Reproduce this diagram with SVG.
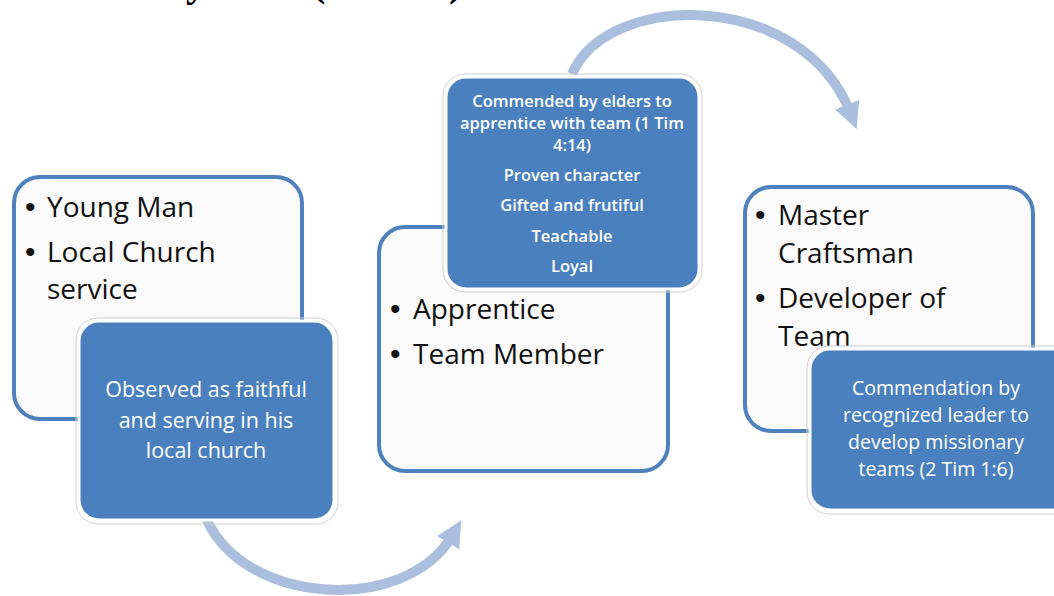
<svg xmlns="http://www.w3.org/2000/svg" width="1054" height="596" viewBox="0 0 1054 596">
<defs>
<style>
.outer{fill:#FAFAFA;stroke:#4F81BD;stroke-width:4}
.halo{fill:none;stroke:#D0D0D0;stroke-width:1}
.blue{fill:#4A80BD;stroke:#FFFFFF;stroke-width:3}
.big{font-family:"Open Sans","Liberation Sans",sans-serif;font-size:28px;fill:#111}
.bul{font-family:"Liberation Sans",sans-serif;font-size:30px;fill:#111}
.wt{font-family:"Open Sans","Liberation Sans",sans-serif;fill:#FFFFFF;text-anchor:middle}
.arc{fill:none;stroke:#A9BFDD;stroke-width:10}
.title{font-family:"Liberation Serif",serif;font-weight:bold;font-size:40px;fill:#000}
</style>
<marker id="ah" viewBox="0 0 10 10" refX="3" refY="5" markerWidth="2.6" markerHeight="2.6" orient="auto" markerUnits="strokeWidth">
<path d="M0,0 L10,5 L0,10 Z" fill="#A9BFDD"/>
</marker>
</defs>
<g id="title">
<text class="title" x="186" y="-4">y</text>
<text class="title" x="312" y="-4">(</text>
<text class="title" x="449" y="-4">)</text>
</g>
<g id="connectors">
<path class="arc" d="M207 520 C245 605 405 615 452 536" marker-end="url(#ah)"/>
<path class="arc" d="M572 74 C608 -10 802 -10 850 112" marker-end="url(#ah)"/>
</g>
<g id="node1">
<rect class="outer" x="14" y="177" width="288" height="242" rx="26"/>
<text class="bul" x="25" y="217">•</text>
<text class="big" x="47" y="217">Young Man</text>
<text class="bul" x="25" y="262">•</text>
<text class="big" x="47" y="262">Local Church</text>
<text class="big" x="47" y="299">service</text>
</g>
<g id="note1">
<rect class="halo" x="76" y="318" width="262" height="206" rx="22"/>
<rect class="blue" x="79" y="321" width="255" height="199" rx="20"/>
<text class="wt" font-size="21.5" x="206" y="397">Observed as faithful</text>
<text class="wt" font-size="21.5" x="206" y="428">and serving in his</text>
<text class="wt" font-size="21.5" x="206" y="458">local church</text>
</g>
<g id="node2">
<rect class="outer" x="379" y="227" width="289" height="244" rx="26"/>
<text class="bul" x="390" y="319">•</text>
<text class="big" x="413" y="319">Apprentice</text>
<text class="bul" x="390" y="364">•</text>
<text class="big" x="413" y="364">Team Member</text>
</g>
<g id="note2">
<rect class="halo" x="443" y="74" width="259" height="218" rx="22"/>
<rect class="blue" x="446" y="77" width="253" height="212" rx="20"/>
<g font-weight="600">
<text class="wt" font-size="16.5" x="572" y="107">Commended by elders to</text>
<text class="wt" font-size="16.5" x="572" y="129">apprentice with team (1 Tim</text>
<text class="wt" font-size="16.5" x="572" y="151">4:14)</text>
<text class="wt" font-size="16.5" x="572" y="181">Proven character</text>
<text class="wt" font-size="16.5" x="572" y="211">Gifted and frutiful</text>
<text class="wt" font-size="16.5" x="572" y="242">Teachable</text>
<text class="wt" font-size="16.5" x="572" y="272">Loyal</text>
</g>
</g>
<g id="node3">
<rect class="outer" x="745" y="187" width="288" height="244" rx="26"/>
<text class="bul" x="755" y="225">•</text>
<text class="big" x="778" y="225">Master</text>
<text class="big" x="778" y="263">Craftsman</text>
<text class="bul" x="755" y="308">•</text>
<text class="big" x="778" y="308">Developer of</text>
<text class="big" x="778" y="346">Team</text>
</g>
<g id="note3">
<rect class="halo" x="807" y="346" width="270" height="168" rx="22"/>
<rect class="blue" x="810" y="349" width="264" height="161" rx="20"/>
<text class="wt" font-size="19.5" x="936" y="395">Commendation by</text>
<text class="wt" font-size="19.5" x="936" y="422">recognized leader to</text>
<text class="wt" font-size="19.5" x="936" y="449">develop missionary</text>
<text class="wt" font-size="19.5" x="936" y="476">teams (2 Tim 1:6)</text>
</g>
</svg>
